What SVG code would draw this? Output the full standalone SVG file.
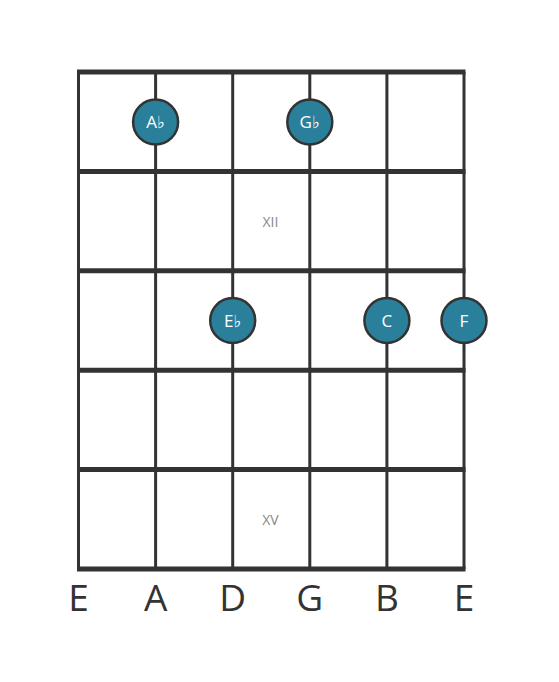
<svg xmlns="http://www.w3.org/2000/svg" width="559" height="682" viewBox="0 0 559 682">
<style>
.fret{stroke:#333;stroke-width:5;}
.str{stroke:#333;stroke-width:3;}
.dot{fill:#2a7f9b;stroke:#333;stroke-width:2.5;}
.nl{fill:#fff;font-family:"Open Sans","DejaVu Sans",sans-serif;font-size:17px;text-anchor:middle;}
.sl{fill:#333;font-family:"Open Sans","DejaVu Sans",sans-serif;font-size:37px;text-anchor:middle;}
.pos{fill:#888;font-family:"Open Sans","DejaVu Sans",sans-serif;font-size:14px;text-anchor:middle;}
</style>
<rect width="559" height="682" fill="#fff"/>
<g id="connectors">
<line class="str" x1="78.5" y1="72" x2="78.5" y2="569"/>
<line class="str" x1="155.6" y1="72" x2="155.6" y2="569"/>
<line class="str" x1="232.7" y1="72" x2="232.7" y2="569"/>
<line class="str" x1="309.8" y1="72" x2="309.8" y2="569"/>
<line class="str" x1="386.9" y1="72" x2="386.9" y2="569"/>
<line class="str" x1="464" y1="72" x2="464" y2="569"/>
<line class="fret" x1="77" y1="72" x2="465.5" y2="72"/>
<line class="fret" x1="77" y1="171.4" x2="465.5" y2="171.4"/>
<line class="fret" x1="77" y1="270.8" x2="465.5" y2="270.8"/>
<line class="fret" x1="77" y1="370.2" x2="465.5" y2="370.2"/>
<line class="fret" x1="77" y1="469.6" x2="465.5" y2="469.6"/>
<line class="fret" x1="77" y1="569" x2="465.5" y2="569"/>
</g>
<text class="pos" x="270.5" y="227">XII</text>
<text class="pos" x="270.5" y="525">XV</text>
<g id="n-ab"><circle class="dot" cx="155.6" cy="122" r="22.5"/><text class="nl" x="155.6" y="128">A♭</text></g>
<g id="n-gb"><circle class="dot" cx="309.8" cy="122" r="22.5"/><text class="nl" x="309.8" y="128">G♭</text></g>
<g id="n-eb"><circle class="dot" cx="232.7" cy="320.5" r="22.5"/><text class="nl" x="232.7" y="326.5">E♭</text></g>
<g id="n-c"><circle class="dot" cx="386.9" cy="320.5" r="22.5"/><text class="nl" x="386.9" y="326.5">C</text></g>
<g id="n-f"><circle class="dot" cx="464" cy="320.5" r="22.5"/><text class="nl" x="464" y="326.5">F</text></g>
<text class="sl" x="78.5" y="611">E</text>
<text class="sl" x="155.6" y="611">A</text>
<text class="sl" x="232.7" y="611">D</text>
<text class="sl" x="309.8" y="611">G</text>
<text class="sl" x="386.9" y="611">B</text>
<text class="sl" x="464" y="611">E</text>
</svg>
